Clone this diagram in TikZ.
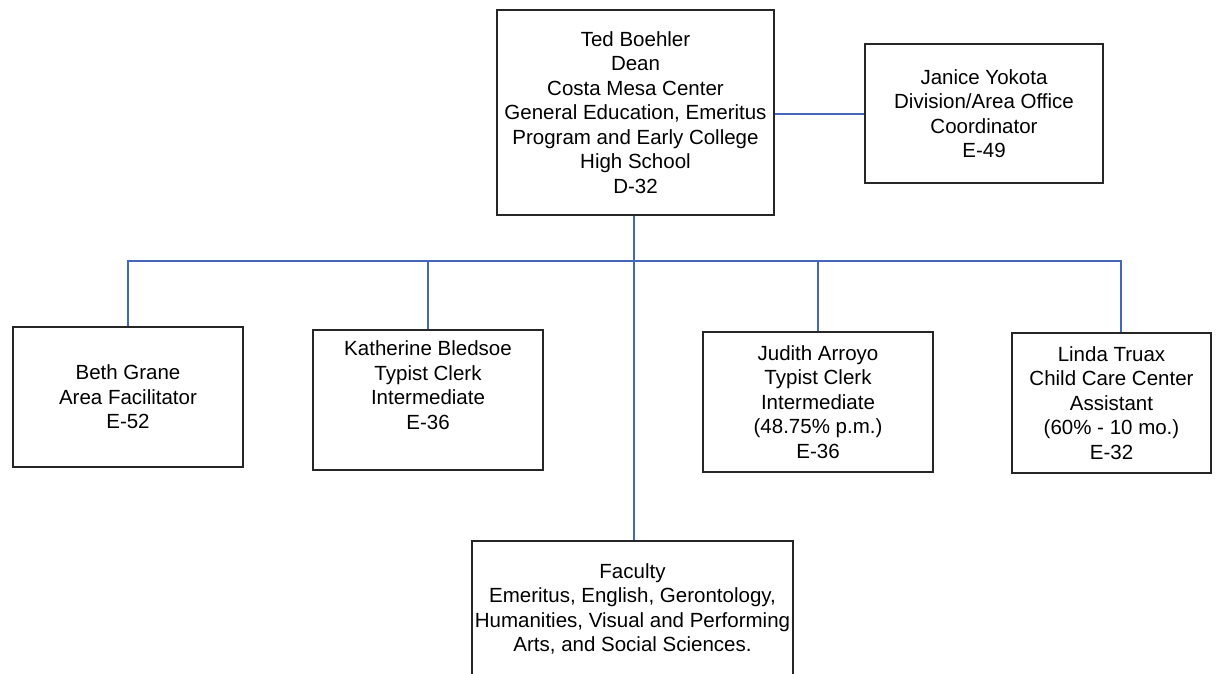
\documentclass[tikz,border=0pt]{standalone}
\usepackage{fontspec}
\setmainfont{Liberation Sans}
\usetikzlibrary{positioning}

\definecolor{linkblue}{RGB}{70,102,188}
\definecolor{boxline}{RGB}{38,38,38}

\begin{document}
\begin{tikzpicture}[x=1bp,y=1bp,yscale=-1,xscale=1,
  box/.style={draw=boxline,line width=2bp,fill=white,align=center,inner sep=0pt,
    font=\fontsize{20.5bp}{24.5bp}\selectfont},
  link/.style={draw=linkblue,line width=1.6bp}]

\useasboundingbox (0,0) rectangle (1220,674);
\clip (0,0) rectangle (1220,674);

% Dean
\node [box,minimum width=277bp,minimum height=205bp] (dean) at (635.5,112.5) {Ted Boehler\\ Dean\\ Costa Mesa Center\\ General Education, Emeritus\\ Program and Early College\\ High School\\ D-32};
% Office coordinator
\node [box,minimum width=238bp,minimum height=139bp] (coord) at (984,113.5) {Janice Yokota\\ Division/Area Office\\ Coordinator\\ E-49};

% Staff row
\node [box,minimum width=230bp,minimum height=140bp] (beth) at (128,397) {Beth Grane\\ Area Facilitator\\ E-52};
\node [box,minimum width=230bp,minimum height=140bp] (kath) at (428,400) {Katherine Bledsoe\\ Typist Clerk\\ Intermediate\\ E-36\\[5.5bp]};
\node [box,minimum width=230bp,minimum height=140bp] (judith) at (818,402) {Judith Arroyo\\ Typist Clerk\\ Intermediate\\ (48.75\% p.m.)\\ E-36};
\node [box,minimum width=199bp,minimum height=140bp] (linda) at (1111.5,403) {Linda Truax\\ Child Care Center\\ Assistant\\ (60\% - 10 mo.)\\ E-32};

% Faculty
\node [box,minimum width=321bp,minimum height=136bp] (faculty) at (632.5,609) {Faculty\\ Emeritus, English, Gerontology,\\ Humanities, Visual and Performing\\ Arts, and Social Sciences.};

% Connectors
\coordinate (hub) at (634,261);
\coordinate (ldrop) at (1121,0);

\draw [link] (dean.east |- 0,114) -- (coord.west |- 0,114);
\draw [link] (dean.south -| hub) -- (hub) -- (faculty.north -| hub);
\draw [link] (beth.north) |- (hub);
\draw [link] (hub) -| (ldrop |- linda.north);
\draw [link] (kath.north) -- (kath.north |- hub);
\draw [link] (judith.north) -- (judith.north |- hub);

\end{tikzpicture}
\end{document}
